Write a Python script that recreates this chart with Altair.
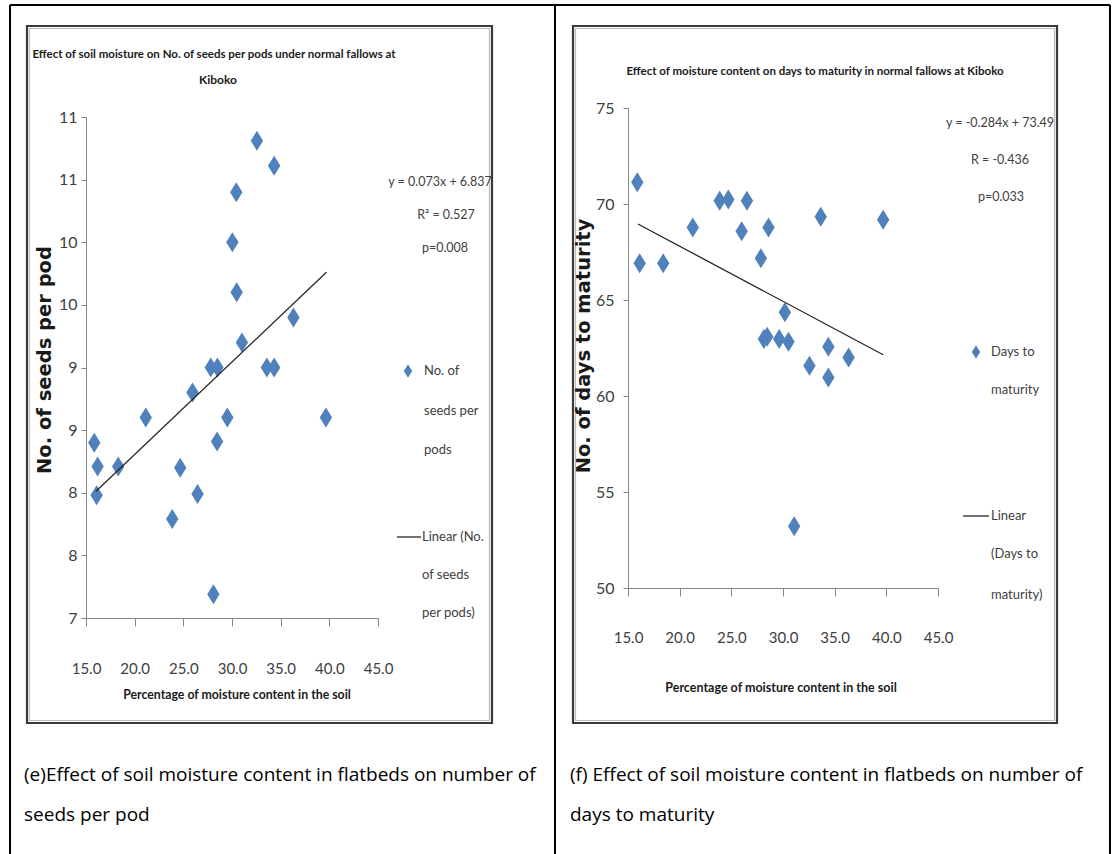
import altair as alt
import pandas as pd

# ---------------- data ----------------
# (e) seeds per pod vs soil moisture
moist_e = [15.85, 16.19, 16.09, 18.31, 21.14, 23.86, 24.68, 25.94, 26.46, 27.82, 28.50, 28.09,
           28.47, 29.52, 30.04, 30.44, 30.48, 31.02, 32.56, 33.58, 34.33, 34.33, 36.31, 39.65]
seeds = [8.40, 8.21, 7.98, 8.21, 8.60, 7.79, 8.20, 8.80, 7.99, 9.00, 9.00, 7.19,
         8.41, 8.60, 10.00, 10.40, 9.60, 9.20, 10.81, 9.00, 9.00, 10.61, 9.40, 8.60]
trend_e_x = [16.0, 39.7]
trend_e_y = [8.01, 9.76]

# (f) days to maturity vs soil moisture
moist_f = [15.90, 16.13, 18.41, 21.27, 23.87, 24.71, 26.51, 26.00, 27.86, 28.60, 28.15,
           28.47, 29.63, 30.18, 30.53, 31.08, 32.56, 33.65, 34.39, 34.39, 36.35, 39.69]
days = [71.13, 66.91, 66.91, 68.78, 70.17, 70.24, 70.17, 68.58, 67.17, 68.78, 62.97,
        63.09, 62.97, 64.36, 62.83, 53.21, 61.58, 69.34, 62.57, 60.97, 62.01, 69.18]
trend_f_x = [15.96, 39.69]
trend_f_y = [68.96, 62.15]

x_ticks = [15, 20, 25, 30, 35, 40, 45]
y_ticks_e = [7, 7.5, 8, 8.5, 9, 9.5, 10, 10.5, 11]
y_ticks_f = [50, 55, 60, 65, 70, 75]

# ---------------- tables ----------------
df_e = pd.DataFrame({"x": moist_e, "y": seeds})
df_te = pd.DataFrame({"x": trend_e_x, "y": trend_e_y})
df_f = pd.DataFrame({"x": moist_f, "y": days})
df_tf = pd.DataFrame({"x": trend_f_x, "y": trend_f_y})
one = pd.DataFrame({"k": [0]})

W, H = 1115, 854
NARROW = "Lato, Liberation Sans, sans-serif"
BLUE = "#4F81BD"
DIAMOND = "M0,-1L0.62,0L0,1L-0.62,0Z"
AX = "#868686"
LAB = "#404040"


def xaxis(offset_y, pad):
    return alt.Axis(orient="bottom", offset=offset_y - H, values=x_ticks, format=".1f",
                    grid=False, tickSize=8, labelPadding=pad, labelFlush=False,
                    labelOverlap=False, domainColor=AX, tickColor=AX, labelColor=LAB,
                    labelFont=NARROW, labelFontSize=15)


def yaxis(offset_x, vals, fmt, pad):
    return alt.Axis(orient="left", offset=-offset_x, values=vals, format=fmt,
                    grid=False, tickSize=5, labelPadding=pad, labelFlush=False,
                    labelOverlap=False, domainColor=AX, tickColor=AX, labelColor=LAB,
                    labelFont=NARROW, labelFontSize=16)


xs_e = alt.Scale(domain=[15, 45], range=[86, 378], nice=False, zero=False)
ys_e = alt.Scale(domain=[7, 11], range=[618, 117], nice=False, zero=False)
xs_f = alt.Scale(domain=[15, 45], range=[628, 938], nice=False, zero=False)
ys_f = alt.Scale(domain=[50, 75], range=[588, 108], nice=False, zero=False)

pts_e = alt.Chart(df_e).mark_point(shape=DIAMOND, filled=True, size=400, color=BLUE,
                                   opacity=1).encode(
    x=alt.X("x:Q", scale=xs_e, axis=xaxis(618, 35), title=None),
    y=alt.Y("y:Q", scale=ys_e, axis=yaxis(86, y_ticks_e, ".0f", 4), title=None),
)
line_e = alt.Chart(df_te).mark_line(color="#262626", strokeWidth=1.3).encode(
    x=alt.X("x:Q", scale=xs_e, axis=None),
    y=alt.Y("y:Q", scale=ys_e, axis=None),
)
pts_f = alt.Chart(df_f).mark_point(shape=DIAMOND, filled=True, size=400, color=BLUE,
                                   opacity=1).encode(
    x=alt.X("x:Q", scale=xs_f, axis=xaxis(588, 34), title=None),
    y=alt.Y("y:Q", scale=ys_f, axis=yaxis(628, y_ticks_f, "d", 9), title=None),
)
line_f = alt.Chart(df_tf).mark_line(color="#262626", strokeWidth=1.3).encode(
    x=alt.X("x:Q", scale=xs_f, axis=None),
    y=alt.Y("y:Q", scale=ys_f, axis=None),
)


def txt(s, x, y, size=13, bold=False, align="center", angle=0, font=NARROW, color=LAB):
    return alt.Chart(one).mark_text(
        text=s, fontSize=size, fontWeight="bold" if bold else "normal", align=align,
        baseline="middle", angle=angle, font=font, color=color
    ).encode(x=alt.value(x), y=alt.value(y))


def rule(x1, y1, x2, y2, color="#000000", w=2.0):
    return alt.Chart(one).mark_rule(color=color, strokeWidth=w).encode(
        x=alt.value(x1), x2=alt.value(x2), y=alt.value(y1), y2=alt.value(y2))


def box(x1, y1, x2, y2, stroke, w):
    return alt.Chart(one).mark_rect(fill="transparent", stroke=stroke, strokeWidth=w).encode(
        x=alt.value(x1), x2=alt.value(x2), y=alt.value(y1), y2=alt.value(y2))


def legend_diamond(x, y):
    return alt.Chart(one).mark_point(shape=DIAMOND, filled=True, size=180, color=BLUE,
                                     opacity=1).encode(x=alt.value(x), y=alt.value(y))


deco = [
    # table frame
    rule(10, 5, 1110, 5), rule(10, 5, 10, H), rule(555, 5, 555, H), rule(1110, 5, 1110, H),
    # chart frames
    box(27, 26, 492, 723, "#3a3a3a", 2.2),
    box(29.5, 28.5, 489.5, 720.5, "#bdbdbd", 1.2),
    box(573, 26, 1057, 723, "#3a3a3a", 2.2),
    box(575.5, 28.5, 1054.5, 720.5, "#bdbdbd", 1.2),
]

TITLE = "#1a1a1a"
texts = [
    # (e) panel
    txt("Effect of soil moisture on No. of  seeds per pods under normal fallows at", 214, 55,
        size=11.5, bold=True, color=TITLE),
    txt("Kiboko", 218, 80, size=12, bold=True, color=TITLE),
    txt("No. of seeds per pod", 45, 360, size=19.5, bold=True, angle=270,
        font="DejaVu Sans", color=TITLE),
    txt("Percentage of moisture content in the soil", 237, 695, size=12.3, bold=True,
        color=TITLE),
    txt("y = 0.073x + 6.837", 440, 182, size=12.5),
    txt("R\u00b2 = 0.527", 446, 215, size=12.5),
    txt("p=0.008", 445, 248, size=12.5),
    legend_diamond(408, 371),
    txt("No. of", 424, 371, align="left"),
    txt("seeds per", 424, 411, align="left"),
    txt("pods", 424, 450, align="left"),
    rule(397, 537, 421, 537, color="#262626", w=1.3),
    txt("Linear (No.", 422, 537, align="left"),
    txt("of  seeds", 422, 575, align="left"),
    txt("per pods)", 422, 613, align="left"),
    # (f) panel
    txt("Effect of moisture content on days to  maturity in normal fallows at Kiboko", 815, 72,
        size=11.5, bold=True, color=TITLE),
    txt("No. of days to maturity", 584, 346, size=19.5, bold=True, angle=270,
        font="DejaVu Sans", color=TITLE),
    txt("Percentage of moisture content in the soil", 781, 688, size=12.5, bold=True,
        color=TITLE),
    txt("y = -0.284x + 73.49", 1000, 123, size=12.5),
    txt("R = -0.436", 1000, 160, size=12.5),
    txt("p=0.033", 1001, 197, size=12.5),
    legend_diamond(976, 352),
    txt("Days to", 991, 352, align="left"),
    txt("maturity", 991, 390, align="left"),
    rule(963, 516, 989, 516, color="#262626", w=1.3),
    txt("Linear", 991, 516, align="left"),
    txt("(Days to", 991, 554, align="left"),
    txt("maturity)", 991, 595, align="left"),
    # captions
    txt("(e)Effect of soil moisture content in flatbeds on number of", 24, 775, size=19,
        align="left", font="Open Sans", color="#000000"),
    txt("seeds per pod", 24, 815, size=19, align="left", font="Open Sans", color="#000000"),
    txt("(f) Effect of soil moisture content in flatbeds on number of", 570, 775, size=19,
        align="left", font="Open Sans", color="#000000"),
    txt("days to maturity", 570, 815, size=19, align="left", font="Open Sans",
        color="#000000"),
]

chart = alt.layer(*deco, pts_e, line_e, pts_f, line_f, *texts).resolve_scale(
    x="independent", y="independent"
).properties(
    width=W, height=H, autosize=alt.AutoSizeParams(type="none"), padding=0,
    background="white"
).configure_view(strokeWidth=0)

chart.save("out.html", embed_options={"renderer": "svg", "actions": False})
